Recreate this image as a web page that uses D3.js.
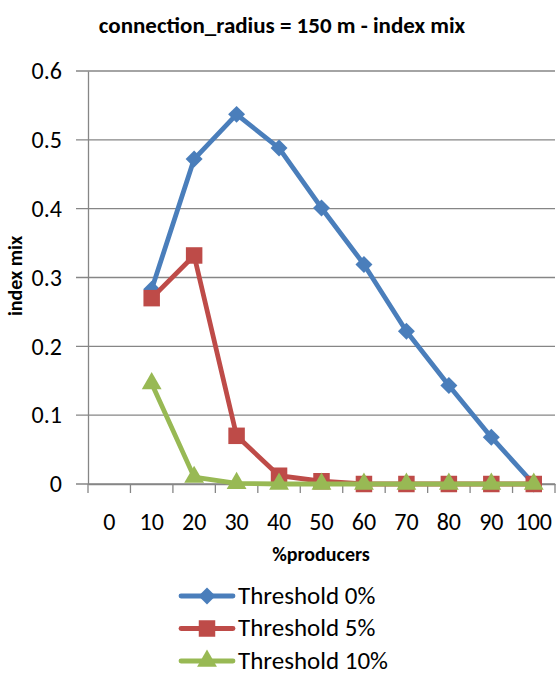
<!DOCTYPE html>
<html>
<head>
<meta charset="utf-8">
<script src="https://cdn.jsdelivr.net/npm/d3@7"></script>
<style>
  body { margin: 0; background: #fff; }
  svg { display: block; font-family: Carlito, Lato, "Open Sans", sans-serif; }
</style>
</head>
<body>
<svg id="chart" width="557" height="675"></svg>
<script>
const categories = ["0", "10", "20", "30", "40", "50", "60", "70", "80", "90", "100"];
const yTicks = [0, 0.1, 0.2, 0.3, 0.4, 0.5, 0.6];
const threshold0 = [null, 0.283, 0.472, 0.537, 0.488, 0.401, 0.319, 0.222, 0.143, 0.068, 0.0];
const threshold5 = [null, 0.270, 0.332, 0.070, 0.012, 0.004, 0.0, 0.0, 0.0, 0.0, 0.0];
const threshold10 = [null, 0.146, 0.010, 0.001, 0.0, 0.0, 0.0, 0.0, 0.0, 0.0, 0.0];

const series = [
  { name: "Threshold 0%", values: threshold0, color: "#4A7EBB", marker: "diamond" },
  { name: "Threshold 5%", values: threshold5, color: "#BE4B48", marker: "square" },
  { name: "Threshold 10%", values: threshold10, color: "#98B954", marker: "triangle" }
];

const svg = d3.select("#chart");
const plot = { left: 88, right: 555, top: 71, bottom: 484 };
const fontFam = "Carlito, Lato, 'Open Sans', sans-serif";

const x = d3.scaleBand().domain(categories).range([plot.left, plot.right]);
const y = d3.scaleLinear().domain([0, 0.6]).range([plot.bottom, plot.top]);

// title
svg.append("text")
  .attr("x", 282).attr("y", 33)
  .attr("text-anchor", "middle")
  .attr("font-weight", "bold").attr("font-size", 23)
  .text("connection_radius = 150 m - index mix");

// gridlines
svg.append("g")
  .selectAll("line")
  .data(yTicks)
  .join("line")
  .attr("x1", plot.left - 12).attr("x2", plot.right)
  .attr("y1", d => y(d)).attr("y2", d => y(d))
  .attr("stroke", "#868686").attr("stroke-width", 1.3);

// y axis
const yAxis = svg.append("g")
  .attr("transform", `translate(${plot.left},0)`)
  .call(d3.axisLeft(y).tickValues(yTicks).tickSize(0).tickPadding(26)
    .tickFormat(d => d === 0 ? "0" : d3.format(".1f")(d)));
yAxis.select(".domain").attr("stroke", "#868686").attr("stroke-width", 1.3);
yAxis.selectAll("text").attr("font-size", 24).attr("fill", "#000")
  .attr("font-family", fontFam);

// x axis
const xAxis = svg.append("g")
  .attr("transform", `translate(0,${plot.bottom})`)
  .call(d3.axisBottom(x).tickSize(0).tickPadding(29));
xAxis.select(".domain").attr("stroke", "#868686").attr("stroke-width", 1.3);
xAxis.selectAll("text").attr("font-size", 24).attr("fill", "#000")
  .attr("font-family", fontFam);
xAxis.selectAll(".boundary")
  .data(categories.map(c => x(c)).concat([plot.right]))
  .join("line")
  .attr("class", "boundary")
  .attr("x1", d => d).attr("x2", d => d)
  .attr("y1", 0).attr("y2", 9)
  .attr("stroke", "#868686").attr("stroke-width", 1.3);

// axis titles
svg.append("text")
  .attr("transform", "translate(22,276) rotate(-90)")
  .attr("text-anchor", "middle")
  .attr("font-weight", "bold").attr("font-size", 20)
  .text("index mix");
svg.append("text")
  .attr("x", 321).attr("y", 561)
  .attr("text-anchor", "middle")
  .attr("font-weight", "bold").attr("font-size", 20)
  .text("%producers");

const symbols = {
  diamond: d3.symbol().type(d3.symbolSquare).size(144),
  square: d3.symbol().type(d3.symbolSquare).size(272),
  triangle: d3.symbol().type(d3.symbolTriangle).size(170)
};
const markerRotate = { diamond: 45, square: 0, triangle: 0 };

const line = d3.line()
  .defined(d => d.v != null)
  .x(d => x(d.c) + x.bandwidth() / 2)
  .y(d => y(d.v));

series.forEach(s => {
  const pts = categories.map((c, i) => ({ c, v: s.values[i] }));
  const g = svg.append("g");
  g.append("path")
    .datum(pts)
    .attr("d", line)
    .attr("fill", "none")
    .attr("stroke", s.color)
    .attr("stroke-width", 4.8)
    .attr("stroke-linejoin", "round");
  g.selectAll("path.mk")
    .data(pts.filter(d => d.v != null))
    .join("path")
    .attr("class", "mk")
    .attr("d", symbols[s.marker])
    .attr("transform", d => `translate(${x(d.c) + x.bandwidth() / 2},${y(d.v)}) rotate(${markerRotate[s.marker]})`)
    .attr("fill", s.color);
});

// legend
const legend = svg.append("g");
series.forEach((s, i) => {
  const ly = 596 + i * 32.5;
  legend.append("line")
    .attr("x1", 181).attr("x2", 233)
    .attr("y1", ly).attr("y2", ly)
    .attr("stroke", s.color).attr("stroke-width", 4.8)
    .attr("stroke-linecap", "round");
  legend.append("path")
    .attr("d", symbols[s.marker])
    .attr("transform", `translate(207,${ly}) rotate(${markerRotate[s.marker]})`)
    .attr("fill", s.color);
  legend.append("text")
    .attr("x", 238).attr("y", ly + 7.5)
    .attr("font-size", 25)
    .text(s.name);
});
</script>
</body>
</html>
